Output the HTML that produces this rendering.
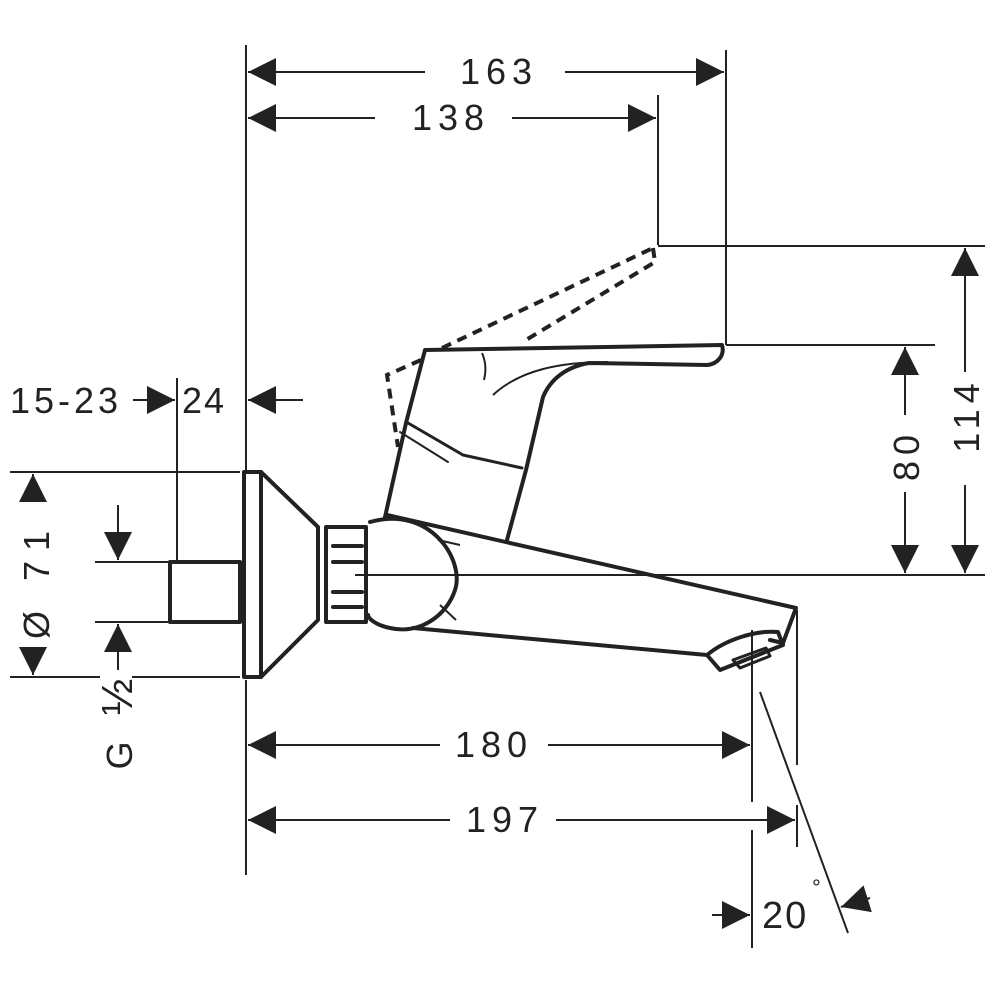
<!DOCTYPE html>
<html><head><meta charset="utf-8"><style>
html,body{margin:0;padding:0;background:#fff;}
svg{display:block}
text{font-family:"Liberation Sans",sans-serif;fill:#222;}
</style></head><body>
<svg width="1000" height="1000" viewBox="0 0 1000 1000" xmlns="http://www.w3.org/2000/svg">
<defs>
<marker id="a" viewBox="0 0 10 10" refX="10" refY="5" markerWidth="28" markerHeight="28" markerUnits="userSpaceOnUse" orient="auto"><path d="M0,0L10,5L0,10z" fill="#222"/></marker>
</defs>
<g stroke="#222" stroke-width="2" fill="none">
<line x1="246" y1="45" x2="246" y2="472"/>
<line x1="246" y1="680" x2="246" y2="875"/>
<line x1="726" y1="50" x2="726" y2="345"/>
<line x1="658" y1="95" x2="658" y2="245"/>
<line x1="658" y1="246" x2="985" y2="246"/>
<line x1="726" y1="345" x2="935" y2="345"/>
<line x1="355" y1="575" x2="985" y2="575"/>
<line x1="177" y1="378" x2="177" y2="562"/>
<line x1="10" y1="472" x2="240" y2="472"/>
<line x1="10" y1="677" x2="100" y2="677"/>
<line x1="132" y1="677" x2="240" y2="677"/>
<line x1="95" y1="562" x2="170" y2="562"/>
<line x1="95" y1="622" x2="170" y2="622"/>
<line x1="752" y1="630" x2="752" y2="802"/>
<line x1="752" y1="830" x2="752" y2="948"/>
<line x1="797" y1="610" x2="797" y2="765"/>
<line x1="797" y1="805" x2="797" y2="847"/>
<line x1="760" y1="692" x2="848" y2="933"/>
<line x1="425" y1="72" x2="248" y2="72" marker-end="url(#a)"/>
<line x1="565" y1="72" x2="724" y2="72" marker-end="url(#a)"/>
<line x1="375" y1="118" x2="248" y2="118" marker-end="url(#a)"/>
<line x1="512" y1="118" x2="656" y2="118" marker-end="url(#a)"/>
<line x1="440" y1="745" x2="248" y2="745" marker-end="url(#a)"/>
<line x1="548" y1="745" x2="750" y2="745" marker-end="url(#a)"/>
<line x1="450" y1="820" x2="248" y2="820" marker-end="url(#a)"/>
<line x1="556" y1="820" x2="795" y2="820" marker-end="url(#a)"/>
<line x1="965" y1="372" x2="965" y2="248" marker-end="url(#a)"/>
<line x1="965" y1="485" x2="965" y2="573" marker-end="url(#a)"/>
<line x1="905" y1="415" x2="905" y2="347" marker-end="url(#a)"/>
<line x1="905" y1="492" x2="905" y2="573" marker-end="url(#a)"/>
<line x1="133" y1="400" x2="175" y2="400" marker-end="url(#a)"/>
<line x1="303" y1="400" x2="248" y2="400" marker-end="url(#a)"/>
<line x1="33" y1="500" x2="33" y2="474" marker-end="url(#a)"/>
<line x1="33" y1="648" x2="33" y2="675" marker-end="url(#a)"/>
<line x1="118" y1="505" x2="118" y2="560" marker-end="url(#a)"/>
<line x1="118" y1="670" x2="118" y2="624" marker-end="url(#a)"/>
<line x1="712" y1="915" x2="750" y2="915" marker-end="url(#a)"/>
<line x1="870" y1="898" x2="841" y2="907" marker-end="url(#a)"/>
</g>
<g stroke="#222" stroke-width="4" fill="none" stroke-linejoin="round" stroke-linecap="round">
<rect x="170" y="562" width="70" height="60"/>
<rect x="244" y="472" width="17" height="205"/>
<path d="M261,472L318,527L318,620L261,677"/>
<rect x="326" y="527" width="40" height="95"/>
<path d="M333,546H362M333,562H362M333,592H362M333,607H362"/>
<path d="M370,522C430,505 465,560 455,590C447,615 420,635 390,628C375,625 368,618 368,615"/>
<path d="M387,515L796,608L783,643L770,640"/>
<path d="M413,628C600,645 650,650 707,655"/>
<path d="M707,655L720,670L783,645L778,632C755,630 725,640 707,655Z"/>
<path d="M733,660L740,668L770,656L766,648Z" stroke-width="3"/>
<path d="M385,517L406,423L425,350L722,345C725,355 718,364 707,365L589,363C560,368 548,385 543,397L526,470L507,540"/>
<path d="M408,423L463,455L522,468" stroke-width="3"/>
<path d="M400,432L448,462" stroke-width="2"/>
</g>
<g stroke="#222" stroke-width="2" fill="none">
<path d="M482,353C486,362 486,372 484,380"/>
<path d="M493,395C520,370 560,362 608,362"/>
<path d="M438,540L460,545M440,605L456,620"/>
</g>
<g stroke="#222" stroke-width="4" fill="none" stroke-dasharray="10,7">
<path d="M421,360L387,375L398,447"/>
<path d="M442,348L653,248"/>
<path d="M653,248L655,262L526,340"/>
</g>
<g font-size="36" letter-spacing="6">
<text x="460" y="84">163</text>
<text x="412" y="130">138</text>
<text x="455" y="757">180</text>
<text x="466" y="832">197</text>
<text x="10" y="413" letter-spacing="4">15-23</text>
<text x="182" y="413" letter-spacing="2">24</text>
<text x="762" y="928" font-size="38" letter-spacing="2">20</text>
<text x="812" y="895" font-size="22">°</text>
<text transform="translate(979,415) rotate(-90)" text-anchor="middle">114</text>
<text transform="translate(919,455) rotate(-90)" text-anchor="middle">80</text>
<text transform="translate(49,580) rotate(-90)" text-anchor="middle" letter-spacing="10">Ø 71</text>
<text transform="translate(132,720) rotate(-90)" text-anchor="middle" letter-spacing="8">G <tspan font-size="44">½</tspan></text>
</g>
</svg>
</body></html>
